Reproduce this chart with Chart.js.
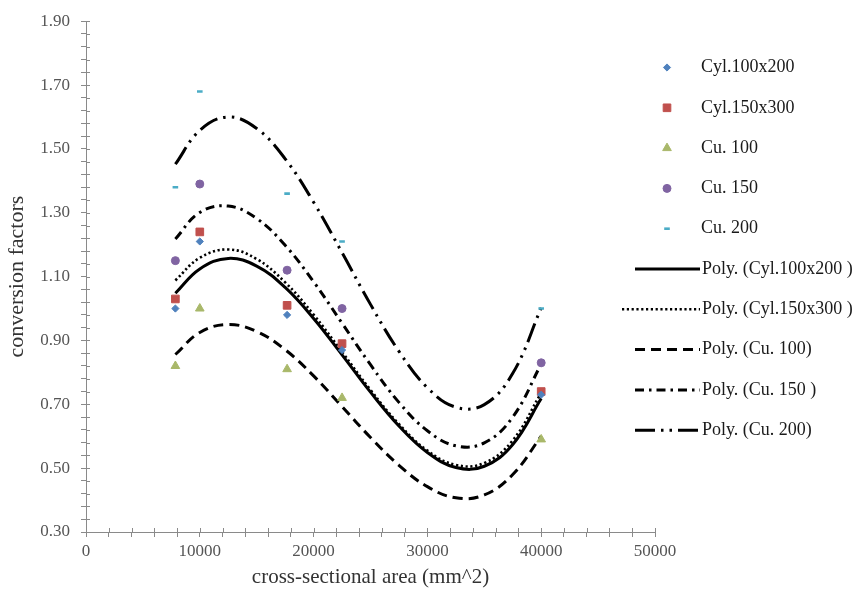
<!DOCTYPE html>
<html>
<head>
<meta charset="utf-8">
<script src="https://cdn.jsdelivr.net/npm/chart.js@4/dist/chart.umd.min.js"></script>
<style>
  html, body { margin: 0; padding: 0; background: #ffffff; }
  #wrap { width: 861px; height: 597px; }
</style>
</head>
<body>
<div id="wrap"><canvas id="c" width="861" height="597"></canvas></div>
<script>
// ---- data ----
const areaX = [7854, 10000, 17671, 22500, 40000];
const cyl100 = [1.00, 1.21, 0.98, 0.87, 0.73];
const cyl150 = [1.03, 1.24, 1.01, 0.89, 0.74];
const cu100  = [0.82, 1.00, 0.81, 0.72, 0.59];
const cu150  = [1.15, 1.39, 1.12, 1.00, 0.83];
const cu200  = [1.38, 1.68, 1.36, 1.21, 1.00];

// trend curves (values read along the drawn polynomial trendlines)
const fitX       = [7854, 10000, 12500, 15000, 17500, 20000, 22500, 25000, 27500, 30000, 32500, 35000, 37500, 40000];
const polyCyl100 = [1.048, 1.124, 1.157, 1.133, 1.066, 0.969, 0.855, 0.738, 0.632, 0.549, 0.502, 0.506, 0.574, 0.718];
const polyCyl150 = [1.088, 1.159, 1.185, 1.155, 1.082, 0.981, 0.864, 0.745, 0.638, 0.555, 0.510, 0.516, 0.587, 0.736];
const polyCu100  = [0.856, 0.925, 0.950, 0.928, 0.871, 0.789, 0.693, 0.596, 0.509, 0.442, 0.407, 0.416, 0.480, 0.600];
const polyCu150  = [1.218, 1.301, 1.321, 1.282, 1.198, 1.084, 0.954, 0.824, 0.706, 0.617, 0.570, 0.579, 0.660, 0.826];
const polyCu200  = [1.452, 1.558, 1.600, 1.564, 1.469, 1.333, 1.175, 1.013, 0.866, 0.752, 0.691, 0.699, 0.797, 1.002];

const seriesLabels = ["Cyl.100x200", "Cyl.150x300", "Cu. 100", "Cu. 150", "Cu. 200"];
const trendLabels = ["Poly. (Cyl.100x200 )", "Poly. (Cyl.150x300 )", "Poly. (Cu. 100)", "Poly. (Cu. 150 )", "Poly. (Cu. 200)"];
const xTitle = "cross-sectional area (mm^2)";
const yTitle = "conversion factors";

// ---- styles ----
const SERIF = '"Liberation Serif", "Times New Roman", serif';
const pts = (xs, ys) => xs.map((x, i) => ({ x: x, y: ys[i] }));

const markerStyles = [
  { color: '#4F81BD', style: 'rectRot', r: 3.6 },
  { color: '#C0504D', style: 'rect', r: 5.4 },
  { color: '#A9B86A', style: 'triangle', r: 5 },
  { color: '#8064A2', style: 'circle', r: 4 },
  { color: '#4BACC6', style: 'line', r: 2.8, bw: 2.6 }
];
const lineStyles = [
  { dash: [], width: 3 },
  { dash: [2.2, 2.6], width: 2.6 },
  { dash: [10, 6], width: 3 },
  { dash: [9, 5, 2.5, 5], width: 3 },
  { dash: [20, 6, 2.5, 6, 2.5, 6], width: 3 }
];

const seriesData = [cyl100, cyl150, cu100, cu150, cu200];
const trendData = [polyCyl100, polyCyl150, polyCu100, polyCu150, polyCu200];

const datasets = [];
seriesData.forEach((ys, i) => {
  const m = markerStyles[i];
  datasets.push({
    label: seriesLabels[i],
    data: pts(areaX, ys),
    showLine: false,
    pointStyle: m.style,
    pointRadius: m.r,
    pointHoverRadius: m.r,
    backgroundColor: m.color,
    borderColor: m.color,
    pointBorderWidth: m.bw || 1,
    borderWidth: m.bw || 1
  });
});
trendData.forEach((ys, i) => {
  const l = lineStyles[i];
  datasets.push({
    label: trendLabels[i],
    data: pts(fitX, ys),
    showLine: true,
    tension: 0.4,
    pointRadius: 0,
    pointHoverRadius: 0,
    borderColor: '#000000',
    backgroundColor: '#000000',
    borderWidth: l.width,
    borderDash: l.dash,
    borderCapStyle: 'butt',
    fill: false
  });
});

// side legend drawn on the canvas
function drawMarker(ctx, style, r, x, y, color, bw) {
  ctx.save();
  ctx.fillStyle = color; ctx.strokeStyle = color; ctx.lineWidth = bw || 1;
  ctx.beginPath();
  if (style === 'rectRot') {
    ctx.moveTo(x, y - r); ctx.lineTo(x + r, y); ctx.lineTo(x, y + r); ctx.lineTo(x - r, y); ctx.closePath();
    ctx.fill(); ctx.stroke();
  } else if (style === 'rect') {
    const h = r * Math.SQRT1_2;
    ctx.rect(x - h, y - h, 2 * h, 2 * h); ctx.fill(); ctx.stroke();
  } else if (style === 'triangle') {
    ctx.moveTo(x, y - r); ctx.lineTo(x + r * 0.866, y + r * 0.5); ctx.lineTo(x - r * 0.866, y + r * 0.5); ctx.closePath();
    ctx.fill(); ctx.stroke();
  } else if (style === 'circle') {
    ctx.arc(x, y, r, 0, Math.PI * 2); ctx.fill(); ctx.stroke();
  } else if (style === 'line') {
    ctx.moveTo(x - r, y); ctx.lineTo(x + r, y); ctx.stroke();
  }
  ctx.restore();
}

const sideLegend = {
  id: 'sideLegend',
  afterDraw(chart) {
    const ctx = chart.ctx;
    ctx.save();
    ctx.font = '18px ' + SERIF;
    ctx.fillStyle = '#1a1a1a';
    ctx.textBaseline = 'middle';
    ctx.textAlign = 'left';
    chart.data.datasets.forEach((ds, i) => {
      const y = 67.5 + i * 40.3;
      if (ds.showLine) {
        ctx.save();
        ctx.strokeStyle = ds.borderColor;
        ctx.lineWidth = ds.borderWidth;
        ctx.setLineDash(ds.borderDash || []);
        ctx.beginPath();
        ctx.moveTo(i === 6 ? 622 : 635, y);
        ctx.lineTo(700, y);
        ctx.stroke();
        ctx.restore();
        ctx.fillText(ds.label, 702, y);
      } else {
        drawMarker(ctx, ds.pointStyle, ds.pointRadius, 667, y, ds.backgroundColor, ds.borderWidth);
        ctx.fillText(ds.label, 701, y);
      }
    });
    ctx.restore();
  }
};

// small inner tick marks so ticks cross the axis lines
const innerTicks = {
  id: 'innerTicks',
  afterDraw(chart) {
    const ctx = chart.ctx;
    const xs = chart.scales.x, ys = chart.scales.y;
    ctx.save();
    ctx.strokeStyle = '#8a8a8a';
    ctx.lineWidth = 1;
    ctx.beginPath();
    xs.ticks.forEach(t => {
      const px = Math.round(xs.getPixelForValue(t.value)) + 0.5;
      ctx.moveTo(px, ys.bottom); ctx.lineTo(px, ys.bottom - 4);
    });
    ys.ticks.forEach(t => {
      const py = Math.round(ys.getPixelForValue(t.value)) + 0.5;
      ctx.moveTo(xs.left, py); ctx.lineTo(xs.left + 4, py);
    });
    ctx.stroke();
    ctx.restore();
  }
};

new Chart(document.getElementById('c'), {
  type: 'scatter',
  data: { datasets: datasets },
  options: {
    responsive: false,
    animation: false,
    events: [],
    layout: { padding: { top: 18, right: 206, bottom: 0, left: 0 } },
    plugins: {
      legend: { display: false },
      tooltip: { enabled: false },
      title: { display: false }
    },
    scales: {
      x: {
        type: 'linear',
        min: 0,
        max: 50000,
        afterFit: (s) => { s.height = 65; },
        ticks: {
          stepSize: 2000,
          autoSkip: false,
          maxRotation: 0,
          padding: 4,
          color: '#555555',
          font: { family: SERIF, size: 17 },
          callback: (v) => (v % 10000 === 0 ? String(v) : '')
        },
        grid: { display: true, drawOnChartArea: false, drawTicks: true, tickLength: 5, color: '#8a8a8a' },
        border: { display: true, color: '#8a8a8a', width: 1 },
        title: {
          display: true,
          text: xTitle,
          color: '#333333',
          font: { family: SERIF, size: 21 },
          padding: { top: 0, bottom: 7 }
        }
      },
      y: {
        type: 'linear',
        min: 0.3,
        max: 1.9,
        afterFit: (s) => { s.width = 86; },
        ticks: {
          stepSize: 0.04,
          autoSkip: false,
          padding: 11,
          color: '#555555',
          font: { family: SERIF, size: 17 },
          callback: (v) => {
            const c = Math.round(v * 100);
            return ((c - 30) % 20 === 0) ? (c / 100).toFixed(2) : '';
          }
        },
        grid: { display: true, drawOnChartArea: false, drawTicks: true, tickLength: 5, color: '#8a8a8a' },
        border: { display: true, color: '#8a8a8a', width: 1 },
        title: {
          display: true,
          text: yTitle,
          color: '#333333',
          font: { family: SERIF, size: 22 },
          padding: { top: 4, bottom: 0 }
        }
      }
    }
  },
  plugins: [sideLegend, innerTicks]
});
</script>
</body>
</html>
